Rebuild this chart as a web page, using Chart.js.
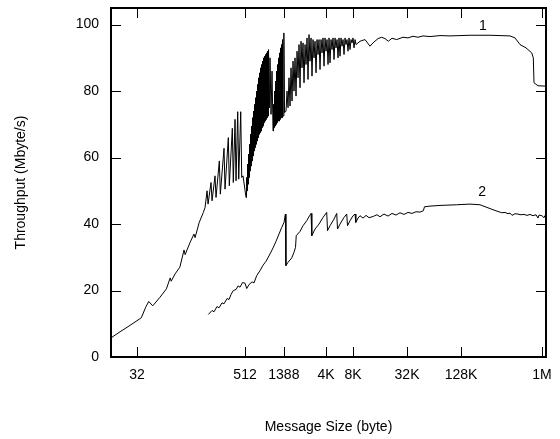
<!DOCTYPE html>
<html>
<head>
<meta charset="utf-8">
<script src="https://cdn.jsdelivr.net/npm/chart.js@4/dist/chart.umd.min.js"></script>
<style>
  html, body { margin: 0; padding: 0; background: #fff; }
  #wrap { width: 560px; height: 439px; }
</style>
</head>
<body>
<div id="wrap"><canvas id="c" width="560" height="439"></canvas></div>
<script>
// ---- data (message size in bytes, throughput in Mbyte/s) ----
const sizes1 = [16.5, 20.7, 26, 35.7, 40, 43.2, 47.9, 57.8, 68, 75, 77, 85, 96, 107, 110, 125, 138, 142, 158, 175.7,
  183.5, 193.2, 198.2, 213.9, 219.5, 237, 243.2, 264.7, 271.6, 298.6, 306.4, 333.4, 342, 369.5, 379, 396.2, 406.4, 424.5, 435.5, 458.5, 470.5, 486.4,
  525.3, 532.1, 539.0, 546.0, 553.0, 560.1, 567.4, 574.7, 582.1, 589.6, 597.3, 605.0, 612.8, 620.7, 628.7, 636.8, 645.1, 653.4, 661.9, 670.5,
  679.1, 687.9, 696.7, 705.7, 714.9, 724.1, 733.4, 742.9, 752.5, 762.2, 772.1, 782.1, 792.2, 802.4, 812.7, 823.2, 833.9, 844.7, 855.6, 866.7,
  877.8, 889.1, 900.7, 912.3, 924.1, 936.0, 960.5, 972.8, 998.1, 1024, 1050.5,
  1064.1, 1078.0, 1091.9, 1106.0, 1120.3, 1134.5, 1149.2, 1164.0, 1179.1, 1194.3, 1209.7, 1225.3, 1241.1, 1257.1, 1273.3, 1289.8, 1306.5,
  1323.3, 1340.4, 1357.6, 1388, 1413,
  1467, 1505, 1544, 1584, 1626, 1668, 1711, 1756, 1801, 1848, 1896, 1946, 1996, 2048, 2101, 2156, 2212, 2270, 2329, 2389, 2451, 2515, 2580,
  2647, 2716, 2787, 2859, 2934, 3010, 3088, 3169, 3251, 3336, 3422, 3511, 3603, 3696, 3793, 3891, 3992, 4096, 4203, 4312, 4424, 4539,
  4657, 4778, 4902, 5030, 5161, 5295, 5433, 5574, 5719, 5868, 6020, 6177, 6337, 6502, 6671, 6845, 7023, 7205, 7393, 7585, 7782, 7985,
  8192, 8405, 8624, 8848, 9009,
  9805, 11148, 12675, 13689, 15564, 17115, 18628, 20274, 22296, 25158, 29570, 33620, 38225, 43461, 49414, 59141, 76450, 98828,
  165140, 275954, 461137, 524288, 596098, 695372, 805044, 838700, 853903, 946260, 1160000];
const tput1 = [5.8, 7.6, 9.3, 11.8, 15, 16.7, 15.4, 18, 20.5, 23.8, 22.8, 25, 27, 32.2, 30.8, 34.5, 37, 35.9, 40.5, 43.5,
  45, 50, 46, 52.5, 47, 54.5, 48, 59, 49, 62.8, 50.5, 66, 51.5, 68.8, 52.5, 71.5, 53, 73.8, 53.5, 73.8, 54, 54.5,
  48, 54, 50, 58, 52, 61, 54, 64, 56, 67, 57.5, 69.5, 59, 72, 60.5, 74, 62, 76, 63, 78,
  64, 80, 65, 82, 66, 84, 67, 85.5, 67.5, 87, 68, 88, 69, 89, 69.5, 90, 70.5, 90.5, 71, 91,
  71.5, 91.5, 72, 92, 72.5, 92.5, 75, 90, 73, 86, 68,
  76, 69, 80, 69.5, 83, 70, 86, 70.5, 88, 71, 90, 71, 91.5, 71.5, 93, 72, 94,
  72, 95.5, 72.5, 97.5, 73.5,
  74, 80, 75, 84, 75.5, 87, 77, 89, 80, 90, 78.5, 92, 84, 94, 81, 95, 87, 94.5, 82.5, 94, 88, 96, 83.5,
  97, 89, 96, 84.5, 95.5, 90, 95, 85.5, 95.5, 91, 95.5, 86.5, 95.5, 91.5, 96, 87.5, 96, 92, 95.5, 88, 96, 88.5,
  95.5, 92.5, 96, 89.5, 96, 93, 95.5, 90, 96, 90.5, 96, 93.5, 95.5, 91, 96, 94, 95.5, 92, 96, 92.5, 95.5, 94.5,
  96, 93, 95.5, 94, 94,
  95, 95.5, 93.5, 94.5, 95.8, 96.2, 95.8, 95, 95.9, 95.5, 96.2, 96, 96.5, 96.2, 96.6, 96.4, 96.7, 96.6,
  96.8, 96.8, 96.6, 96, 94, 93, 91.5, 90, 82.5, 81.6, 81.5];

const sizes2 = [199.7, 219.5, 231, 249.4, 262.6, 283.7, 298.6, 322.5, 339.6, 357.4, 379, 406.4, 427.8, 450.3, 480.2, 512, 534.8, 567.4, 612.8, 645.1,
  691.5, 752.5, 812.7, 877.8, 972.8, 1050.5, 1134.5, 1225.3, 1313.6, 1393.5, 1444.4, 1463, 1544, 1698, 1801, 1872, 1906, 2101, 2270, 2496, 2682, 2787, 2845,
  3088, 3422, 3793, 4170, 4257, 4539, 5030, 5391, 5503, 5868, 6502, 6969, 7114, 7585, 8192, 8624, 8802, 9314, 9805, 10590, 11438, 12354, 13796,
  15170, 16384, 18156, 20120, 22296, 24707, 27378, 30340, 33620, 37256, 41285, 45751, 49798, 51354, 59141, 76450, 117375, 165140, 213475,
  255508, 305805, 372612, 405594, 438057, 461137, 485435, 524288, 566263, 596098, 660561, 713459, 770586, 832248, 898902, 946260, 970869, 1048576, 1103806, 1132526, 1160000];
const tput2 = [12.8, 14, 13.6, 15.2, 14.8, 16.3, 16, 17.6, 17.3, 18.8, 20, 20.3, 21.4, 21, 22.4, 22.2, 20.6, 21.8, 22.6, 22.3,
  24.5, 26, 27.6, 28.8, 31, 32.8, 34.8, 37, 39, 40.5, 43, 27.5, 28.5, 29.8, 31.5, 33, 36.5, 37.8, 39.5, 41, 42.5, 43.2, 36.5,
  38.5, 40, 42, 43.5, 38, 39.5, 41.5, 43.2, 38.5, 40, 42, 43, 39.5, 41, 42.5, 43, 40.5, 41.8, 42.5, 41.8, 42.6, 41.9, 42.3,
  42.8, 42.2, 43, 42.4, 43.2, 42.7, 43.4, 42.9, 43.5, 43.2, 43.7, 43.6, 44, 45.2, 45.4, 45.6, 45.8, 46, 45.8,
  45, 44.2, 43.4, 43.5, 43.1, 43.3, 42.6, 43.1, 43, 42.8, 42.9, 42.6, 42.9, 42.5, 42.8, 41.8, 42.7, 42.5, 41.9, 42.6, 42.5];

const xTickValues = [32, 512, 1388, 4096, 8192, 32768, 131072, 1048576];
const xTickLabels = ['32', '512', '1388', '4K', '8K', '32K', '128K', '1M'];
const yTickValues = [0, 20, 40, 60, 80, 100];
const seriesNames = ['1', '2'];
const seriesLabelAt = [[230000, 99.5], [226000, 49.5]];

const FONT = "'Liberation Sans', Arial, Helvetica, sans-serif";

const framePlugin = {
  id: 'frame',
  afterDatasetsDraw(chart) {
    const {ctx, chartArea: a, scales: {x, y}} = chart;
    ctx.save();
    ctx.strokeStyle = '#000';
    ctx.lineWidth = 1;
    const tl = 10;
    ctx.beginPath();
    xTickValues.forEach(v => {
      const px = Math.round(x.getPixelForValue(v)) + 0.5;
      ctx.moveTo(px, a.bottom); ctx.lineTo(px, a.bottom - tl);
      ctx.moveTo(px, a.top); ctx.lineTo(px, a.top + tl);
    });
    yTickValues.forEach(v => {
      const py = Math.round(y.getPixelForValue(v)) + 0.5;
      ctx.moveTo(a.left, py); ctx.lineTo(a.left + tl, py);
      ctx.moveTo(a.right, py); ctx.lineTo(a.right - tl, py);
    });
    ctx.stroke();
    ctx.lineWidth = 2;
    ctx.strokeRect(a.left, a.top, a.right - a.left, a.bottom - a.top);
    ctx.fillStyle = '#000';
    ctx.font = '14px ' + FONT;
    ctx.textAlign = 'center';
    ctx.textBaseline = 'middle';
    seriesNames.forEach((n, i) => {
      ctx.fillText(n, x.getPixelForValue(seriesLabelAt[i][0]), y.getPixelForValue(seriesLabelAt[i][1]));
    });
    ctx.restore();
  }
};

new Chart(document.getElementById('c'), {
  type: 'line',
  data: {
    datasets: [
      { data: sizes1.map((s, i) => ({x: s, y: tput1[i]})), borderColor: '#000', borderWidth: 1, pointRadius: 0, tension: 0, fill: false },
      { data: sizes2.map((s, i) => ({x: s, y: tput2[i]})), borderColor: '#000', borderWidth: 1, pointRadius: 0, tension: 0, fill: false }
    ]
  },
  options: {
    responsive: false,
    animation: false,
    layout: { padding: { top: 8, right: 14, left: 0, bottom: 0 } },
    plugins: { legend: { display: false }, tooltip: { enabled: false } },
    scales: {
      x: {
        type: 'logarithmic',
        min: 16.4, max: 1162000,
        grid: { display: false, drawTicks: false },
        border: { display: false },
        afterBuildTicks: s => { s.ticks = xTickValues.map(v => ({value: v})); },
        afterFit: s => { s.height = 82; s.paddingLeft = 0; s.paddingRight = 0; },
        ticks: {
          autoSkip: false, maxRotation: 0, padding: 10, color: '#000',
          font: { family: FONT, size: 14 },
          callback: (v) => { const i = xTickValues.indexOf(v); return i >= 0 ? xTickLabels[i] : ''; }
        },
        title: { display: true, text: 'Message Size (byte)', color: '#000', font: { family: FONT, size: 14 }, padding: { top: 0, bottom: 3 } }
      },
      y: {
        type: 'linear',
        min: 0, max: 105,
        grid: { display: false, drawTicks: false },
        border: { display: false },
        afterBuildTicks: s => { s.ticks = yTickValues.map(v => ({value: v})); },
        afterFit: s => { s.width = 111; s.paddingTop = 0; s.paddingBottom = 0; },
        ticks: { padding: 12, color: '#000', font: { family: FONT, size: 14 } },
        title: { display: true, text: 'Throughput (Mbyte/s)', color: '#000', font: { family: FONT, size: 14 }, padding: { top: 13, bottom: 0 } }
      }
    }
  },
  plugins: [framePlugin]
});
</script>
</body>
</html>
